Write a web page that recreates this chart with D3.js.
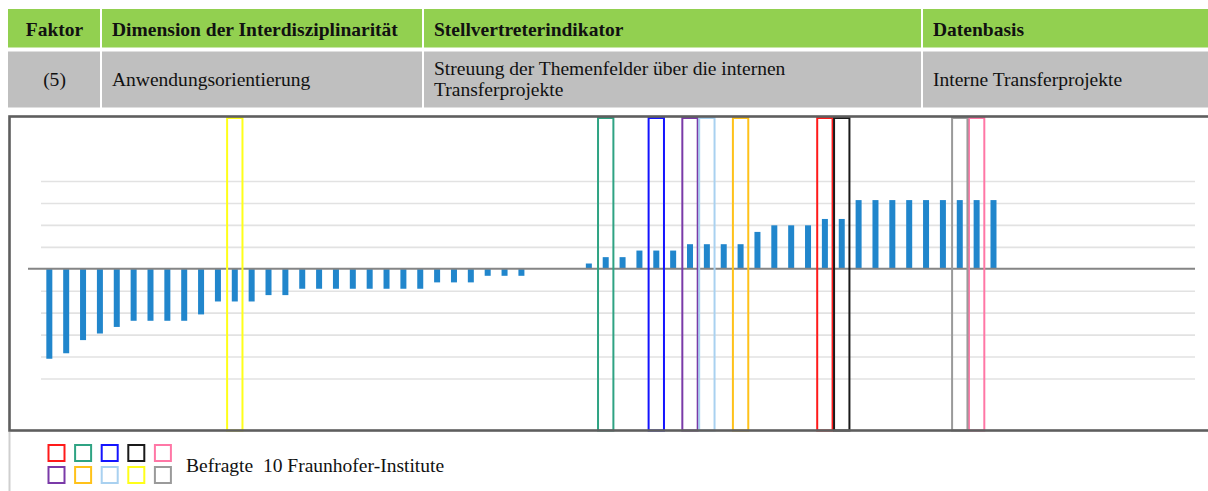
<!DOCTYPE html>
<html>
<head>
<meta charset="utf-8">
<script src="https://cdn.jsdelivr.net/npm/d3@7"></script>
<style>
  html, body { margin: 0; padding: 0; background: #ffffff; }
  svg { display: block; }
  text { font-family: "Liberation Serif", "Times New Roman", serif; fill: #111; white-space: pre; }
</style>
</head>
<body>
<svg id="chart" width="1208" height="491"></svg>
<script>
// ---- Table content ----
const tableHeaders = ["Faktor", "Dimension der Interdisziplinarität", "Stellvertreterindikator", "Datenbasis"];
const tableRow = [
  ["(5)"],
  ["Anwendungsorientierung"],
  ["Streuung der Themenfelder über die internen", "Transferprojekte"],
  ["Interne Transferprojekte"]
];

// ---- Bar data: one bar per transfer project, sorted by deviation ----
const categories = [
  1, 2, 3, 4, 5, 6, 7, 8, 9, 10, 11, 12, 13, 14, 15, 16, 17, 18, 19, 20,
  21, 22, 23, 24, 25, 26, 27, 28, 29, 30, 31, 32, 33, 34, 35, 36, 37, 38, 39, 40,
  41, 42, 43, 44, 45, 46, 47, 48, 49, 50, 51, 52, 53, 54, 55, 56, 57
];
const values = [
  -4.1, -3.85, -3.25, -2.95, -2.65, -2.37, -2.37, -2.37, -2.37, -2.08,
  -1.49, -1.49, -1.49, -1.2, -1.2, -0.91, -0.91, -0.91, -0.91, -0.91,
  -0.91, -0.91, -0.91, -0.62, -0.62, -0.62, -0.32, -0.32, -0.32, 0,
  0, 0, 0.24, 0.53, 0.53, 0.83, 0.83, 0.83, 1.12, 1.12,
  1.12, 1.12, 1.68, 1.98, 1.98, 1.98, 2.27, 2.27, 3.13, 3.13,
  3.13, 3.13, 3.13, 3.13, 3.13, 3.13, 3.13
];
const gridTicks = [-5, -4, -3, -2, -1, 1, 2, 3, 4];

// ---- Surveyed institutes: marker colour and the project each one belongs to ----
const instituteColors = ["#ff1a1a", "#2fa383", "#1414ff", "#1a1a1a", "#ff77a6",
                         "#7a3aa8", "#ffc21a", "#a9d1f0", "#ffff1a", "#9a9a9a"];
const instituteCategories = [47, 34, 37, 48, 56, 39, 42, 40, 12, 55];
const legendLabel = "Befragte  10 Fraunhofer-Institute";

const svg = d3.select("#chart");
const SX = 1.085; // horizontal stretch of the serif text

function label(parent, x, y, str, opts = {}) {
  return parent.append("text")
    .attr("transform", `translate(${x},${y}) scale(${SX},1)`)
    .attr("font-size", opts.size || 18)
    .attr("font-weight", opts.bold ? "bold" : "normal")
    .attr("text-anchor", opts.anchor || "start")
    .attr("xml:space", "preserve")
    .text(str);
}

// ---- Table ----
const colEdges = [8, 101, 423, 922, 1212];
const table = svg.append("g");
const headRow = { y0: 9, y1: 47.5, fill: "#92d050" };
const bodyRow = { y0: 51.5, y1: 107.5, fill: "#bfbfbf" };
[headRow, bodyRow].forEach(r => {
  for (let c = 0; c < 4; c++) {
    table.append("rect")
      .attr("x", colEdges[c] + (c ? 1 : 0))
      .attr("y", r.y0)
      .attr("width", colEdges[c + 1] - colEdges[c] - (c ? 1 : 0) - 1)
      .attr("height", r.y1 - r.y0)
      .attr("fill", r.fill);
  }
});
const pad = 11;
tableHeaders.forEach((h, c) => {
  if (c === 0) label(table, (colEdges[0] + colEdges[1]) / 2, 35.5, h, { bold: true, anchor: "middle" });
  else label(table, colEdges[c] + pad, 35.5, h, { bold: true });
});
tableRow.forEach((lines, c) => {
  if (lines.length === 1) {
    if (c === 0) label(table, (colEdges[0] + colEdges[1]) / 2, 86, lines[0], { anchor: "middle" });
    else label(table, colEdges[c] + pad, 86, lines[0]);
  } else {
    lines.forEach((ln, i) => label(table, colEdges[c] + pad, 74.5 + i * 21, ln));
  }
});

// ---- Chart ----
const plotTop = 116.5, plotBottom = 430.5;
const x = d3.scaleBand()
  .domain(categories)
  .range([40.9, 40.9 + categories.length * 16.86])
  .paddingInner(0.644)
  .paddingOuter(0.322);
const y = d3.scaleLinear().domain([-5, 4]).range([378.5, 181]);

const chart = svg.append("g");

// gridlines
chart.append("g")
  .attr("transform", "translate(41,0)")
  .call(d3.axisLeft(y).tickValues(gridTicks).tickSize(-(1195 - 41)).tickFormat(""))
  .call(g => g.select(".domain").remove())
  .call(g => g.selectAll(".tick line").attr("stroke", "#e2e2e2").attr("stroke-width", 1.6));

// bars
chart.append("g").selectAll("rect")
  .data(categories.map((c, i) => ({ c, v: values[i] })).filter(d => d.v !== 0))
  .join("rect")
  .attr("x", d => x(d.c))
  .attr("width", x.bandwidth())
  .attr("y", d => Math.min(y(d.v), y(0)))
  .attr("height", d => Math.abs(y(d.v) - y(0)))
  .attr("fill", "#2186cc");

// zero line
chart.append("line")
  .attr("x1", 28).attr("x2", 1195)
  .attr("y1", y(0)).attr("y2", y(0))
  .attr("stroke", "#858585").attr("stroke-width", 2);

// institute markers: outline around the band of the matching project
const step = x.step();
chart.append("g").selectAll("rect")
  .data(instituteCategories.map((c, i) => ({ c, color: instituteColors[i] })))
  .join("rect")
  .attr("x", d => x(d.c) + x.bandwidth() / 2 - step / 2 + 0.75)
  .attr("width", step - 1.5)
  .attr("y", plotTop + 1.5)
  .attr("height", plotBottom - plotTop - 1.5)
  .attr("fill", "none")
  .attr("stroke", d => d.color)
  .attr("stroke-width", 2);

// frame around the chart
svg.append("rect")
  .attr("x", 9.5).attr("y", plotTop)
  .attr("width", 1220).attr("height", plotBottom - plotTop)
  .attr("fill", "none").attr("stroke", "#5e5e5e").attr("stroke-width", 2.6);
svg.append("line")
  .attr("x1", 9.5).attr("x2", 9.5).attr("y1", plotBottom + 1.5).attr("y2", 491)
  .attr("stroke", "#cfcfcf").attr("stroke-width", 2);

// ---- Legend ----
const legend = svg.append("g");
legend.selectAll("rect")
  .data(instituteColors)
  .join("rect")
  .attr("x", (d, i) => 48.5 + (i % 5) * 26.6)
  .attr("y", (d, i) => 445 + Math.floor(i / 5) * 22)
  .attr("width", 16).attr("height", 16)
  .attr("fill", "none")
  .attr("stroke", d => d)
  .attr("stroke-width", 2);
label(legend, 186, 472, legendLabel);
</script>
</body>
</html>
